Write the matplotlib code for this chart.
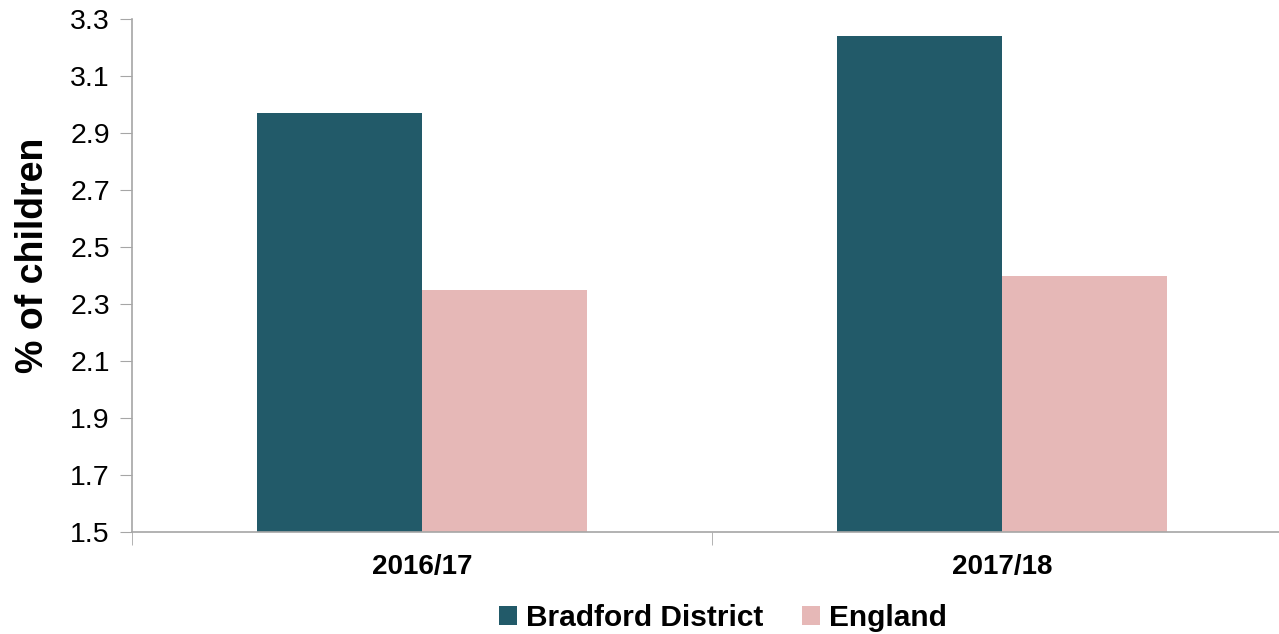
import matplotlib.pyplot as plt
import numpy as np

plt.rcParams['font.family'] = ['Liberation Sans', 'DejaVu Sans']

# data
years = ['2016/17', '2017/18']
bradford = [2.97, 3.24]
england = [2.35, 2.40]
series_names = ['Bradford District', 'England']
colors = ['#225A69', '#E6B8B7']

W, H = 1279, 634
fig = plt.figure(figsize=(W / 100, H / 100), dpi=100)
ax = fig.add_axes([132 / W, (H - 532) / H, 1160 / W, 513 / H])

x = np.arange(len(years))
bw = 0.285
ax.bar(x - bw / 2, bradford, bw, color=colors[0], label=series_names[0])
ax.bar(x + bw / 2, england, bw, color=colors[1], label=series_names[1])

ax.set_ylim(1.5, 3.3)
ax.set_yticks(np.arange(1.5, 3.31, 0.2))
ax.set_yticklabels([f'{v:.1f}' for v in np.arange(1.5, 3.31, 0.2)])
ax.set_xlim(-0.5, len(years) - 0.5)
ax.set_xticks(x)
ax.set_xticklabels(years, fontweight='bold')
ax.set_xticks(np.arange(-0.5, len(years), 1.0), minor=True)

axis_grey = '#A6A6A6'
for s in ['top', 'right']:
    ax.spines[s].set_visible(False)
for s in ['left', 'bottom']:
    ax.spines[s].set_color(axis_grey)
    ax.spines[s].set_linewidth(1.2)

ax.tick_params(axis='y', labelsize=20.5, length=9, color=axis_grey, pad=7)
ax.tick_params(axis='x', which='major', length=0, labelsize=20, pad=16)
ax.tick_params(axis='x', which='minor', length=9, color=axis_grey)

ax.set_ylabel('% of children', fontsize=27, fontweight='bold')
ax.yaxis.set_label_coords(-0.07, 0.54)

fig.legend(loc='center', bbox_to_anchor=(723 / W, 1 - 618 / H), ncol=2,
           frameon=False, prop={'size': 21.5, 'weight': 'bold'},
           handlelength=0.6, handleheight=0.6, handletextpad=0.3,
           columnspacing=1.3)

fig.savefig('out.png', dpi=100)
